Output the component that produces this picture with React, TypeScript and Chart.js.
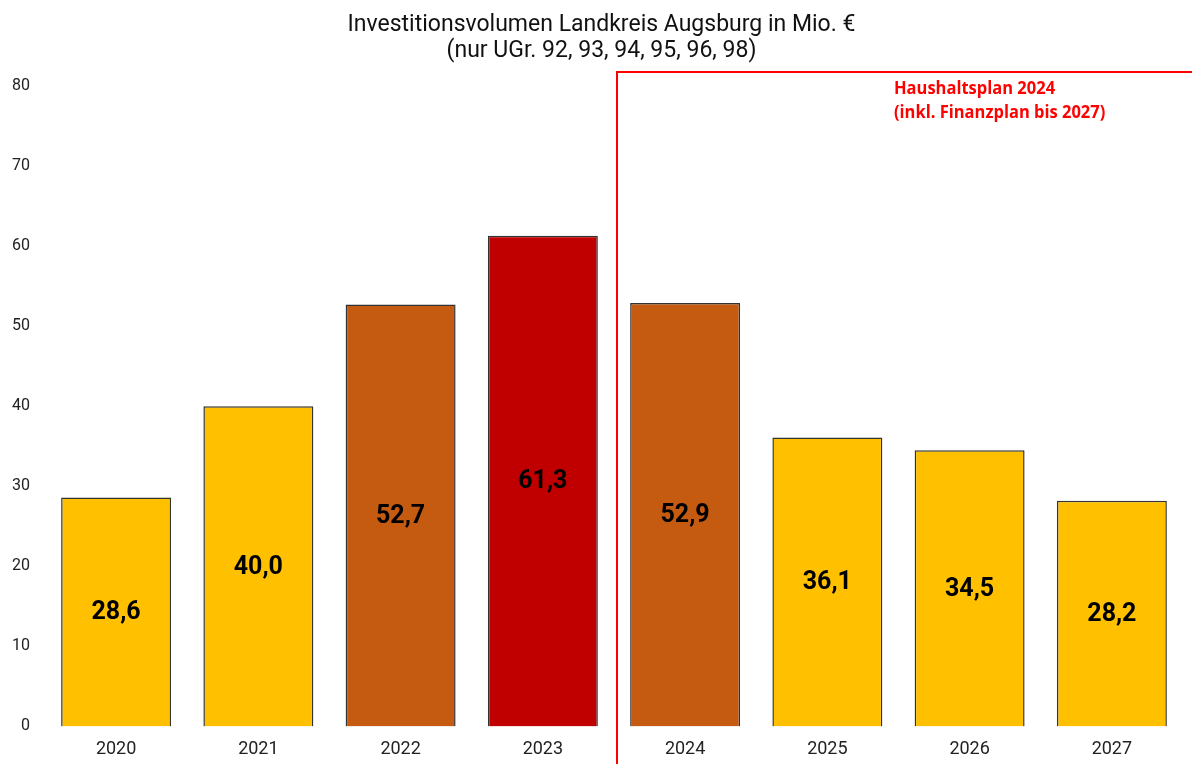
import React, { useEffect, useRef } from "react";
import { Chart, registerables } from "chart.js";

Chart.register(...registerables);

const years = ["2020", "2021", "2022", "2023", "2024", "2025", "2026", "2027"];
const values = [28.6, 40.0, 52.7, 61.3, 52.9, 36.1, 34.5, 28.2];
const barColors = ["#FFC000", "#FFC000", "#C55A11", "#C00000", "#C55A11", "#FFC000", "#FFC000", "#FFC000"];
const titleLines = ["Investitionsvolumen Landkreis Augsburg in Mio. €", "(nur UGr. 92, 93, 94, 95, 96, 98)"];
const planLines = ["Haushaltsplan 2024", "(inkl. Finanzplan bis 2027)"];

const fmt = (v: number) => v.toFixed(1).replace(".", ",");

const overlayPlugin = {
  id: "overlay",
  afterDatasetsDraw(chart: any) {
    const ctx = chart.ctx;
    const meta = chart.getDatasetMeta(0);
    ctx.save();
    // title
    ctx.fillStyle = "#111";
    ctx.font = "23px Roboto";
    ctx.textAlign = "center";
    ctx.textBaseline = "middle";
    ctx.fillText(titleLines[0], 601.5, 25);
    ctx.fillText(titleLines[1], 601.5, 51);
    // value labels
    ctx.fillStyle = "#000";
    ctx.font = "bold 25px Roboto";
    meta.data.forEach((el: any, i: number) => {
      ctx.fillText(fmt(values[i]), el.x, (el.y + el.base) / 2 + 1);
    });
    // red plan frame
    const xs = chart.scales.x;
    const xLine = (xs.getPixelForValue(3) + xs.getPixelForValue(4)) / 2 + 3;
    const topY = 72;
    ctx.strokeStyle = "#FF0000";
    ctx.lineWidth = 2;
    ctx.beginPath();
    ctx.moveTo(xLine, chart.height);
    ctx.lineTo(xLine, topY);
    ctx.lineTo(chart.width, topY);
    ctx.stroke();
    ctx.fillStyle = "#FF0000";
    ctx.font = "bold 17px 'Open Sans'";
    ctx.textAlign = "left";
    ctx.textBaseline = "middle";
    ctx.translate(894, 0);
    ctx.scale(0.97, 1);
    ctx.fillText(planLines[0], 0, 89);
    ctx.fillText(planLines[1], 0, 113);
    ctx.restore();
  },
};

export default function App() {
  const ref = useRef<HTMLCanvasElement | null>(null);
  useEffect(() => {
    if (!ref.current) return;
    const chart = new Chart(ref.current, {
      type: "bar",
      data: {
        labels: years,
        datasets: [
          {
            data: values,
            backgroundColor: barColors,
            borderColor: "#333333",
            borderWidth: 1.5,
            barPercentage: 0.773,
            categoryPercentage: 1,
          },
        ],
      },
      options: {
        animation: false,
        responsive: false,
        maintainAspectRatio: false,
        layout: { padding: { left: -3, right: 9, top: 0, bottom: -8 } },
        plugins: {
          legend: { display: false },
          tooltip: { enabled: false },
          title: {
            display: true,
            text: titleLines,
            color: "rgba(0,0,0,0)",
            font: { family: "Roboto", size: 23, weight: "normal", lineHeight: 1.13 },
            padding: { top: 11, bottom: 23 },
          },
        },
        scales: {
          x: {
            grid: { display: false, drawTicks: false },
            border: { display: false },
            ticks: { color: "#222", font: { family: "Roboto", size: 18 }, padding: 12 },
          },
          y: {
            min: 0,
            max: 80,
            grid: { display: false, drawTicks: false },
            border: { display: false },
            ticks: { stepSize: 10, color: "#222", font: { family: "Roboto", size: 16 }, padding: 15 },
          },
        },
      },
      plugins: [overlayPlugin],
    });
    return () => chart.destroy();
  }, []);
  return (
    <div style={{ position: "fixed", left: 0, top: 0, width: 1192, height: 764, background: "#fff" }}>
      <canvas ref={ref} width={1192} height={764} style={{ display: "block" }} />
    </div>
  );
}
